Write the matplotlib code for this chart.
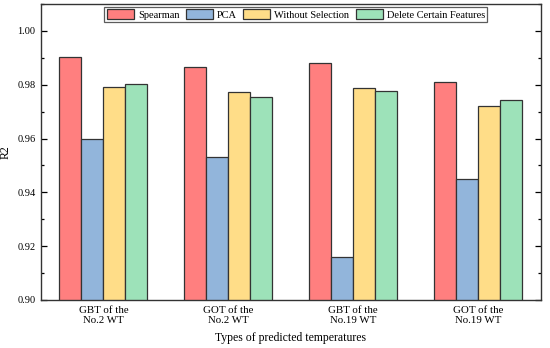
import numpy as np
import matplotlib
matplotlib.use("Agg")
from matplotlib import pyplot as plt
from matplotlib.ticker import MultipleLocator

plt.rcParams['font.family'] = ['Liberation Serif', 'DejaVu Serif']

# categories and series
categories = ['GBT of the\nNo.2 WT', 'GOT of the\nNo.2 WT', 'GBT of the\nNo.19 WT', 'GOT of the\nNo.19 WT']
series_names = ['Spearman', 'PCA', 'Without Selection', 'Delete Certain Features']
spearman = [0.9902, 0.9867, 0.9880, 0.9809]
pca = [0.9597, 0.9530, 0.9159, 0.9450]
without_sel = [0.9791, 0.9772, 0.9786, 0.9721]
delete_feat = [0.9804, 0.9754, 0.9778, 0.9743]
colors = ['#FF7F7F', '#92B5DB', '#FFDD88', '#9DE2B9']

fig = plt.figure(figsize=(5.5, 3.48), dpi=100)
ax = fig.add_axes([0.0745, 0.138, 0.9085, 0.8505])

x = np.arange(len(categories))
w = 0.176
all_series = [spearman, pca, without_sel, delete_feat]
for i, (vals, name, c) in enumerate(zip(all_series, series_names, colors)):
    ax.bar(x + (i - 1.5) * w, vals, width=w, color=c, edgecolor='#333333',
           linewidth=0.9, label=name)

ax.set_xlim(-0.5, 3.5)
ax.set_ylim(0.90, 1.01)
ax.yaxis.set_major_locator(MultipleLocator(0.02))
ax.yaxis.set_minor_locator(MultipleLocator(0.01))
ax.yaxis.set_major_formatter(matplotlib.ticker.FormatStrFormatter('%.2f'))
ax.set_xticks(x)
ax.set_xticklabels(categories, fontsize=7.8, linespacing=1.25)
ax.tick_params(axis='x', length=0, pad=4)
ax.tick_params(axis='y', which='both', direction='in', right=True, labelsize=7.5, width=0.9, pad=4)
ax.tick_params(axis='y', which='major', length=4)
ax.tick_params(axis='y', which='minor', length=2)
for s in ax.spines.values():
    s.set_linewidth(1.0)
    s.set_color('#333333')

ax.set_ylabel('R2', fontsize=8.5)
ax.yaxis.set_label_coords(-0.058, 0.5)
ax.set_xlabel('Types of predicted temperatures', fontsize=8.5, labelpad=5)

leg = ax.legend(ncol=4, loc='upper center', bbox_to_anchor=(0.51, 0.99), fontsize=7.5,
                frameon=True, fancybox=False, edgecolor='#333333', handlelength=2.6,
                handleheight=1.1, columnspacing=0.6, handletextpad=0.4,
                borderpad=0.2, borderaxespad=0.0)
leg.get_frame().set_linewidth(0.9)

fig.savefig('out.png', dpi=100)
